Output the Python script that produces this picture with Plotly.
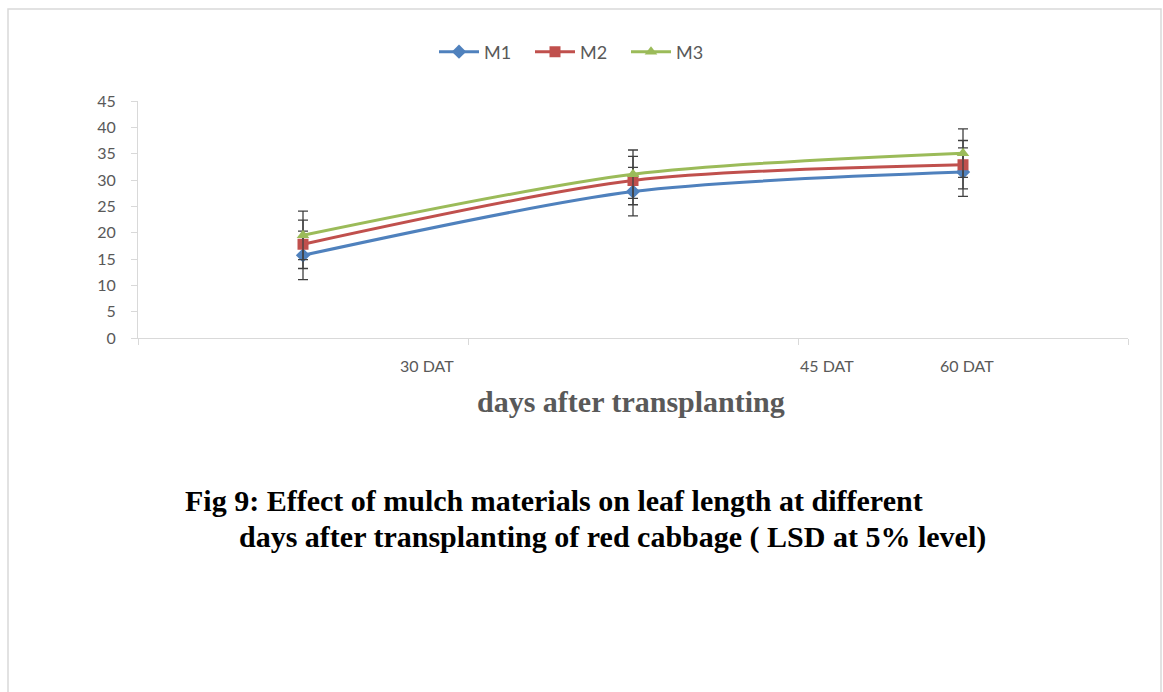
import plotly.graph_objects as go

categories = ["30 DAT", "45 DAT", "60 DAT"]
series_names = ["M1", "M2", "M3"]
m1 = [15.7, 27.8, 31.5]
m2 = [17.8, 29.9, 32.9]
m3 = [19.5, 31.1, 35.1]
lsd = [4.6, 4.6, 4.6]
y_ticks = [0, 5, 10, 15, 20, 25, 30, 35, 40, 45]

W, H = 1163, 692
colors = ["#4F81BD", "#C0504D", "#9BBB59"]
symbols = ["diamond", "square", "triangle-up"]
x_points = [i + 0.5 for i in range(len(categories))]

fig = go.Figure()
for name, vals, col, sym in zip(series_names, [m1, m2, m3], colors, symbols):
    fig.add_trace(go.Scatter(
        x=x_points, y=vals, name=name, mode="lines+markers",
        line=dict(color=col, width=3, shape="spline", smoothing=0.8),
        marker=dict(symbol=sym, size=11, color=col),
        error_y=dict(type="data", array=lsd, visible=True, color="#404040",
                     thickness=1.3, width=5),
    ))

# x-label positions (as displayed in the original, offset from points)
label_pos = [0.876, 2.088, 2.512]

x0p, x1p = 138 / W, 1128 / W
y0p, y1p = (H - 338) / H, (H - 101) / H

fig.update_layout(
    width=W, height=H,
    margin=dict(l=0, r=0, t=0, b=0, autoexpand=False),
    paper_bgcolor="white", plot_bgcolor="white",
    font=dict(family="Lato, Open Sans, sans-serif", size=15, color="#595959"),
    showlegend=True,
    legend=dict(orientation="h", x=578 / W, xanchor="center", y=1 - 52 / H, yanchor="middle",
                font=dict(size=18, color="#595959"), itemwidth=40, tracegroupgap=0,
                entrywidth=41, entrywidthmode="pixels"),
    xaxis=dict(domain=[x0p, x1p], range=[0, 3], showgrid=False, zeroline=False,
               automargin=False,
               showline=True, linecolor="#d9d9d9", linewidth=1,
               tickmode="array", tickvals=[0, 1, 2, 3], showticklabels=False,
               ticks="outside", ticklen=6, tickcolor="#d9d9d9"),
    yaxis=dict(domain=[y0p, y1p], range=[0, 45], showgrid=False, zeroline=False,
               automargin=False,
               showline=True, linecolor="#d9d9d9", linewidth=1,
               tickmode="array", tickvals=y_ticks,
               ticks="outside", ticklen=6, tickcolor="#d9d9d9",
               ticklabelstandoff=12, tickfont=dict(size=16, color="#595959")),
    shapes=[dict(type="rect", xref="paper", yref="paper",
                 x0=8 / W, x1=1161 / W, y0=-0.1, y1=(H - 9) / H,
                 line=dict(color="#d9d9d9", width=1.5), fillcolor="rgba(0,0,0,0)")],
)

annotations = []
for cat, xp in zip(categories, label_pos):
    annotations.append(dict(x=xp, y=(H - 365) / H, xref="x", yref="paper",
                            text=cat, showarrow=False, xanchor="center", yanchor="middle",
                            font=dict(size=16, color="#595959")))
annotations.append(dict(x=631 / W, y=(H - 401) / H, xref="paper", yref="paper",
                        text="<b>days after transplanting</b>", showarrow=False,
                        xanchor="center", yanchor="middle",
                        font=dict(family="Liberation Serif, Times New Roman, serif", size=30, color="#595959")))
annotations.append(dict(x=183 / W, y=(H - 500) / H, xref="paper", yref="paper",
                        text="<b>Fig 9: Effect of mulch materials on leaf length at different</b>",
                        showarrow=False, xanchor="left", yanchor="middle",
                        font=dict(family="Liberation Serif, Times New Roman, serif", size=30, color="#000000")))
annotations.append(dict(x=237 / W, y=(H - 537) / H, xref="paper", yref="paper",
                        text="<b>days after transplanting of red cabbage ( LSD at 5% level)</b>",
                        showarrow=False, xanchor="left", yanchor="middle",
                        font=dict(family="Liberation Serif, Times New Roman, serif", size=30, color="#000000")))
fig.update_layout(annotations=annotations)

fig.write_html("out.html")
